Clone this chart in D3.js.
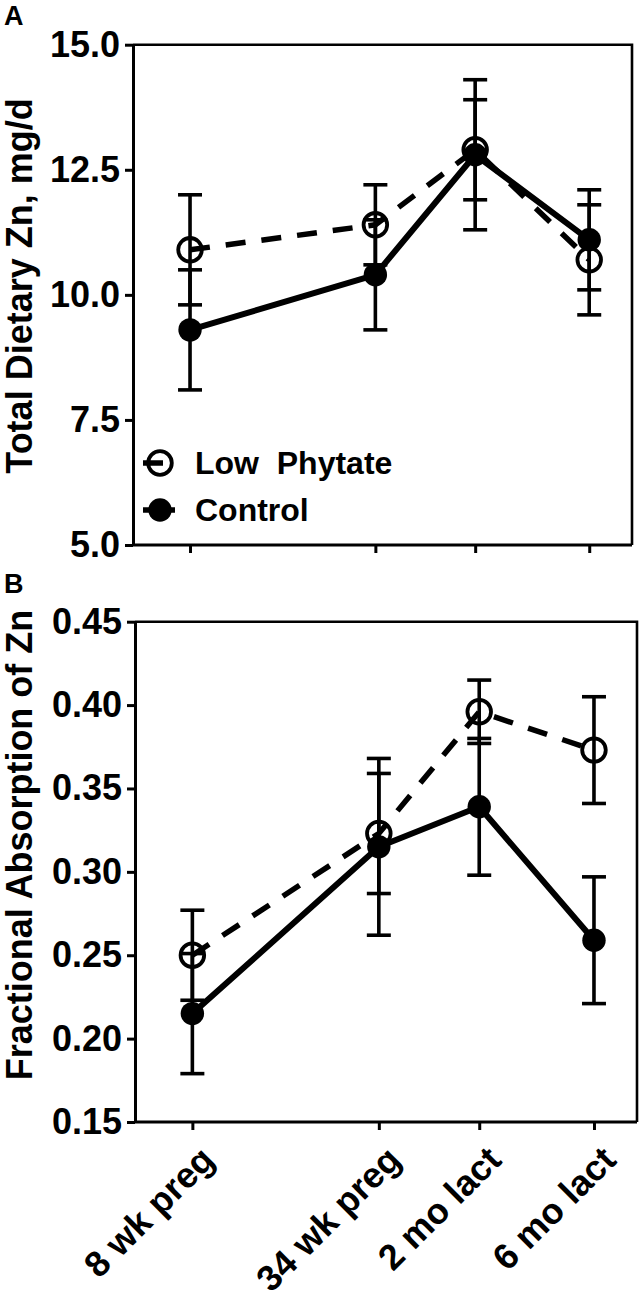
<!DOCTYPE html>
<html>
<head>
<meta charset="utf-8">
<script src="https://cdn.jsdelivr.net/npm/d3@7"></script>
<style>
  body { margin: 0; background: #fff; }
  svg { display: block; font-family: "Liberation Sans", Arial, sans-serif; font-weight: bold; }
  .axis path, .axis line { stroke: #000; stroke-width: 3; }
  .axis text { font-size: 36px; font-weight: bold; fill: #000; }
</style>
</head>
<body>
<svg id="chart" width="641" height="1298"></svg>
<script>
const timepoints = ["8 wk preg", "34 wk preg", "2 mo lact", "6 mo lact"];
const weeks = [8, 34, 48, 64];

const znLowPhytate = [10.9, 11.4, 12.9, 10.7];
const znLowPhytateSD = [1.1, 0.8, 1.0, 1.1];
const znControl = [9.3, 10.4, 12.8, 11.1];
const znControlSD = [1.2, 1.1, 1.5, 1.0];
const znTicks = [5.0, 7.5, 10.0, 12.5, 15.0];

const absLowPhytate = [0.250, 0.323, 0.396, 0.373];
const absLowPhytateSD = [0.027, 0.036, 0.019, 0.032];
const absControl = [0.215, 0.315, 0.339, 0.259];
const absControlSD = [0.036, 0.053, 0.041, 0.038];
const absTicks = [0.15, 0.20, 0.25, 0.30, 0.35, 0.40, 0.45];

const svg = d3.select("#chart");

function drawPanel(opts) {
  const { left, right, top, bottom, domain, ticks, fmt, low, lowSD, ctl, ctlSD, title, titleY, letter, letterY, showX, legend } = opts;
  const x = d3.scaleLinear().domain([0, 70]).range([left, right]);
  const y = d3.scaleLinear().domain(domain).range([bottom, top]);
  const g = svg.append("g");

  // thin frame on top and right
  g.append("path")
    .attr("d", `M ${left} ${top} H ${right} V ${bottom}`)
    .attr("fill", "none").attr("stroke", "#000").attr("stroke-width", 2.6);

  g.append("g").attr("class", "axis")
    .attr("transform", `translate(${left},0)`)
    .call(d3.axisLeft(y).tickValues(ticks).tickFormat(fmt).tickSize(8).tickPadding(5).tickSizeOuter(0));

  const xAxis = g.append("g").attr("class", "axis")
    .attr("transform", `translate(0,${bottom})`)
    .call(d3.axisBottom(x).tickValues(weeks).tickSize(8).tickSizeOuter(0).tickFormat(""));
  xAxis.select(".domain").attr("d", `M ${left} 0 H ${right}`);

  if (showX) {
    g.selectAll(".xlab").data(weeks).join("text")
      .attr("class", "xlab")
      .attr("transform", w => `translate(${x(w) + 24},${bottom + 40}) rotate(-45)`)
      .attr("text-anchor", "end")
      .attr("font-size", 36)
      .text((w, i) => timepoints[i]);
  }

  g.append("text")
    .attr("transform", `translate(32,${titleY}) rotate(-90)`)
    .attr("text-anchor", "middle")
    .attr("font-size", 36)
    .text(title);

  g.append("text").attr("x", 4).attr("y", letterY).attr("font-size", 27).text(letter);

  // error bars
  const bars = [];
  weeks.forEach((w, i) => {
    bars.push({ w, m: low[i], sd: lowSD[i] });
    bars.push({ w, m: ctl[i], sd: ctlSD[i] });
  });
  const eb = g.append("g").attr("stroke", "#000").attr("stroke-width", 3.6).attr("fill", "none");
  eb.selectAll(".v").data(bars).join("line")
    .attr("x1", d => x(d.w)).attr("x2", d => x(d.w))
    .attr("y1", d => y(d.m + d.sd)).attr("y2", d => y(d.m - d.sd));
  eb.selectAll(".ct").data(bars).join("line")
    .attr("x1", d => x(d.w) - 12).attr("x2", d => x(d.w) + 12)
    .attr("y1", d => y(d.m + d.sd)).attr("y2", d => y(d.m + d.sd));
  eb.selectAll(".cb").data(bars).join("line")
    .attr("x1", d => x(d.w) - 12).attr("x2", d => x(d.w) + 12)
    .attr("y1", d => y(d.m - d.sd)).attr("y2", d => y(d.m - d.sd));

  const line = d3.line().x((d, i) => x(weeks[i])).y(d => y(d));
  g.append("path").datum(ctl).attr("d", line)
    .attr("fill", "none").attr("stroke", "#000").attr("stroke-width", 6).attr("stroke-linejoin", "round");
  g.append("path").datum(low).attr("d", line)
    .attr("fill", "none").attr("stroke", "#000").attr("stroke-width", 5.5)
    .attr("stroke-dasharray", "20,16");

  g.selectAll(".ctlpt").data(ctl).join("circle")
    .attr("cx", (d, i) => x(weeks[i])).attr("cy", d => y(d)).attr("r", 11.7).attr("fill", "#000");
  g.selectAll(".lowpt").data(low).join("circle")
    .attr("cx", (d, i) => x(weeks[i])).attr("cy", d => y(d)).attr("r", 11.8)
    .attr("fill", "none").attr("stroke", "#000").attr("stroke-width", 3.8);

  if (legend) {
    const items = [
      { label: "Low  Phytate", open: true, yy: 463 },
      { label: "Control", open: false, yy: 510 }
    ];
    const lg = g.append("g");
    items.forEach(it => {
      lg.append("line").attr("x1", 143).attr("x2", 175).attr("y1", it.yy).attr("y2", it.yy)
        .attr("stroke", "#000").attr("stroke-width", 5.5)
        .attr("stroke-dasharray", it.open ? "20,16" : null);
      lg.append("circle").attr("cx", 160).attr("cy", it.yy).attr("r", it.open ? 11.8 : 11.7)
        .attr("fill", it.open ? "none" : "#000")
        .attr("stroke", it.open ? "#000" : "none").attr("stroke-width", 3.8);
      lg.append("text").attr("x", 195).attr("y", it.yy + 11).attr("font-size", 32)
        .style("white-space", "pre").text(it.label);
    });
  }
}

drawPanel({
  left: 133, right: 632, top: 44.7, bottom: 545,
  domain: [5, 15], ticks: znTicks, fmt: d3.format(".1f"),
  low: znLowPhytate, lowSD: znLowPhytateSD, ctl: znControl, ctlSD: znControlSD,
  title: "Total Dietary Zn, mg/d", titleY: 286, letter: "A", letterY: 25,
  showX: false, legend: true
});

drawPanel({
  left: 135, right: 637, top: 621.7, bottom: 1122,
  domain: [0.15, 0.45], ticks: absTicks, fmt: d3.format(".2f"),
  low: absLowPhytate, lowSD: absLowPhytateSD, ctl: absControl, ctlSD: absControlSD,
  title: "Fractional Absorption of Zn", titleY: 845, letter: "B", letterY: 593,
  showX: true, legend: false
});
</script>
</body>
</html>
